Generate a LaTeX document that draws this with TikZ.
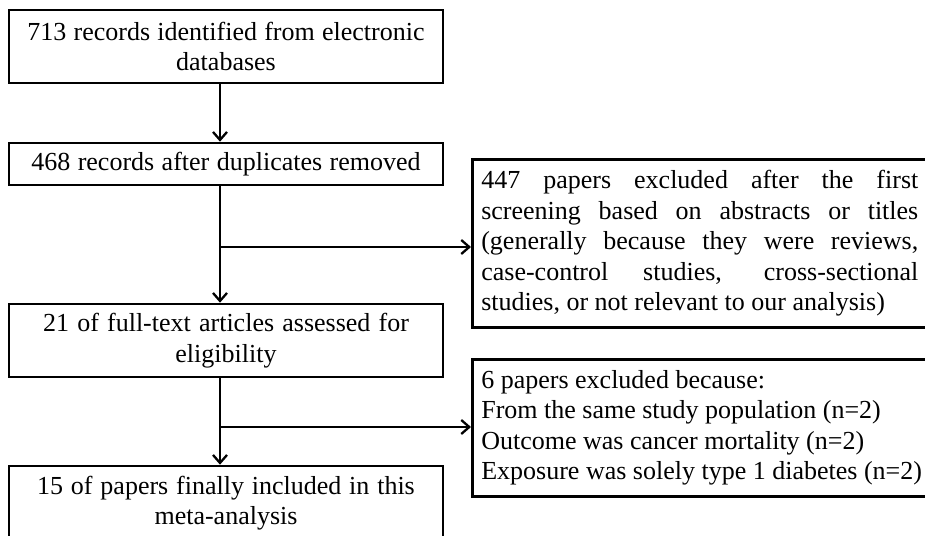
\documentclass[tikz,border=0pt]{standalone}
\usepackage{fontspec}
\setmainfont{Liberation Serif}
\usetikzlibrary{arrows.meta}
\begin{document}
\begin{tikzpicture}[x=1pt,y=-1pt,
  every node/.style={font=\fontsize{26}{30.5}\selectfont, text=black, execute at begin node={\spaceskip=0pt\xspaceskip=0pt}},
  mainbox/.style={draw, line width=2.6pt, minimum width=434pt, text width=420pt, align=center, inner sep=0pt, anchor=center},
  sidebox/.style={draw, line width=2.6pt, text width=460pt, inner xsep=9pt, inner ysep=0pt, anchor=north west, align=left},
  arr/.style={line width=2.3pt, -{Straight Barb[length=8pt,width=14pt,line width=2.3pt]}},
  ln/.style={line width=2.3pt}]
\useasboundingbox (0,0) rectangle (925,535);
\node[mainbox, minimum height=73pt] (b1) at (226,46.5) {713 records identified from electronic\\databases};
\node[mainbox, minimum height=42pt] (b2) at (226,164) {468 records after duplicates removed};
\node[mainbox, minimum height=73pt] (b3) at (226,340.5) {21 of full-text articles assessed for\\eligibility};
\node[mainbox, minimum height=74pt] (b4) at (226,503) {15 of papers finally included in this\\meta-analysis};
\node[sidebox, minimum height=168pt] (r1) at (471,158) {\parbox{437pt}{\leftskip=0pt\rightskip=0pt\parfillskip=0pt plus 1fil\spaceskip=0pt\xspaceskip=0pt\baselineskip=30.5pt\hyphenpenalty=10000\exhyphenpenalty=10000 447 papers excluded after the first\linebreak screening based on abstracts or titles\linebreak (generally because they were reviews,\linebreak case-control studies, cross-sectional\linebreak studies, or not relevant to our analysis)}};
\node[sidebox, minimum height=137pt] (r2) at (471,358) {6 papers excluded because:\\From the same study population (n=2)\\Outcome was cancer mortality (n=2)\\Exposure was solely type 1 diabetes (n=2)};
\coordinate (j1) at (220,247);
\coordinate (j2) at (220,427);
\draw[arr] (b1.south -| j1) -- (b2.north -| j1);
\draw[arr] (b2.south -| j1) -- (b3.north -| j1);
\draw[arr] (b3.south -| j2) -- (b4.north -| j2);
\draw[arr] (j1) -- (j1 -| r1.west);
\draw[arr] (j2) -- (j2 -| r2.west);
\end{tikzpicture}
\end{document}
